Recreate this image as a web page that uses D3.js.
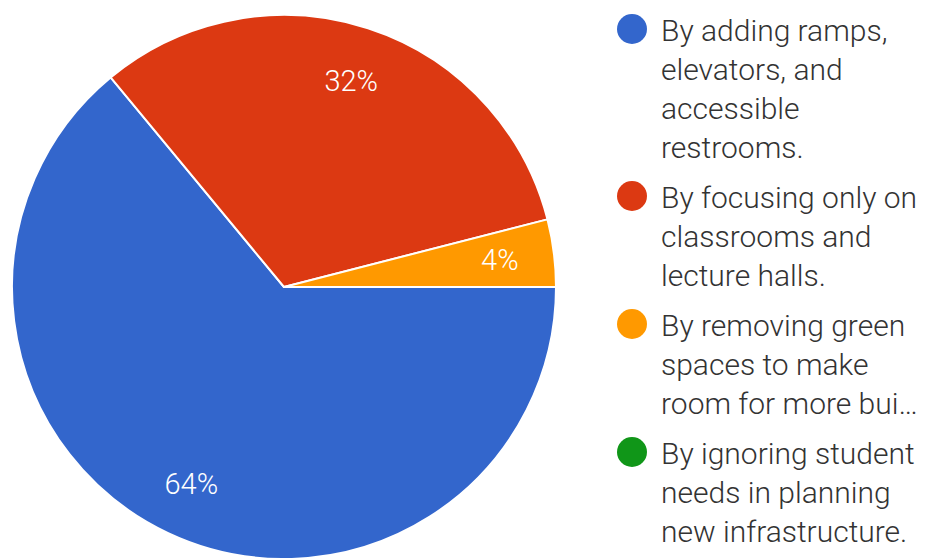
<!DOCTYPE html>
<html>
<head>
<meta charset="utf-8">
<script src="https://cdn.jsdelivr.net/npm/d3@7/dist/d3.min.js"></script>
<style>
  html, body { margin: 0; padding: 0; background: #fff; }
  svg { display: block; font-family: Roboto, "Noto Sans", sans-serif; }
</style>
</head>
<body>
<svg id="chart" width="925" height="558"></svg>
<script>
// Survey answers and their share of responses (percent)
const categories = [
  ["By adding ramps,", "elevators, and", "accessible", "restrooms."],
  ["By focusing only on", "classrooms and", "lecture halls."],
  ["By removing green", "spaces to make", "room for more bui…"],
  ["By ignoring student", "needs in planning", "new infrastructure."]
];
const values = [64, 32, 4, 0];
const colors = ["#3366cc", "#dc3912", "#ff9900", "#109618"];

const svg = d3.select("#chart");
const cx = 284, cy = 287, radius = 272;

const pie = d3.pie()
  .value(d => d.value)
  .sort(null)
  .startAngle(Math.PI / 2)
  .endAngle(Math.PI / 2 + 2 * Math.PI);

const data = values.map((v, i) => ({ value: v, color: colors[i], lines: categories[i] }));
const arcs = pie(data);

const arc = d3.arc().innerRadius(0).outerRadius(radius);
const labelArc = d3.arc().innerRadius(radius * 0.8).outerRadius(radius * 0.8);

const g = svg.append("g").attr("transform", `translate(${cx},${cy})`);

g.selectAll("path")
  .data(arcs.filter(d => d.data.value > 0))
  .join("path")
  .attr("d", arc)
  .attr("fill", d => d.data.color)
  .attr("stroke", "#fff")
  .attr("stroke-width", 2)
  .attr("stroke-linejoin", "round");

g.selectAll("text.pct")
  .data(arcs.filter(d => d.data.value > 0))
  .join("text")
  .attr("class", "pct")
  .attr("transform", d => `translate(${labelArc.centroid(d)})`)
  .attr("text-anchor", "middle")
  .attr("dy", "0.36em")
  .attr("fill", "#fff")
  .attr("font-size", 29)
  .attr("font-weight", 300)
  .text(d => `${d.data.value}%`);

// Legend: wrapped labels with a dot beside the first line
const lineHeight = 39;
const itemGap = 50;
const legend = svg.append("g");
let baseline = 41;
data.forEach((d, i) => {
  const item = legend.append("g");
  item.append("circle")
    .attr("cx", 632)
    .attr("cy", baseline - 12)
    .attr("r", 15)
    .attr("fill", d.color);
  const t = item.append("text")
    .attr("x", 661)
    .attr("y", baseline)
    .attr("fill", "#333")
    .attr("font-size", 30)
    .attr("font-weight", 300);
  d.lines.forEach((line, j) => {
    t.append("tspan")
      .attr("x", 661)
      .attr("y", baseline + j * lineHeight)
      .text(line);
  });
  baseline += (d.lines.length - 1) * lineHeight + itemGap;
});
</script>
</body>
</html>
